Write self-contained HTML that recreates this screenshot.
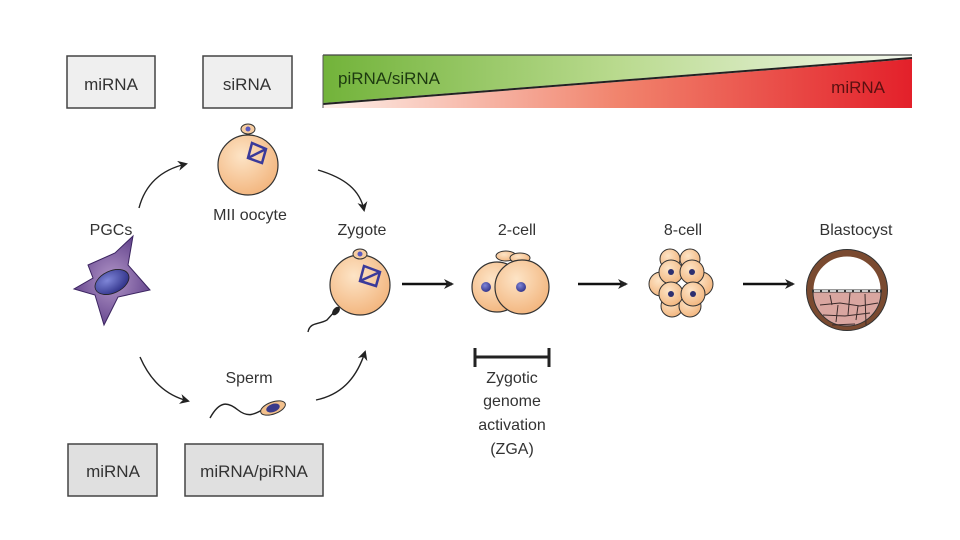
<!DOCTYPE html>
<html><head><meta charset="utf-8"><style>
html,body{margin:0;padding:0;background:#fff}
svg{display:block}
text{font-family:"Liberation Sans",sans-serif;fill:#333}
</style></head><body>
<svg width="960" height="540" viewBox="0 0 960 540" xmlns="http://www.w3.org/2000/svg">
<defs>
<linearGradient id="gg" x1="0" x2="1" y1="0" y2="0"><stop offset="0" stop-color="#72b33a"/><stop offset="0.5" stop-color="#b9da8e"/><stop offset="1" stop-color="#f4f8ee"/></linearGradient>
<linearGradient id="rg" x1="0" x2="1" y1="0" y2="0"><stop offset="0" stop-color="#fdf0ea"/><stop offset="0.5" stop-color="#f1846d"/><stop offset="1" stop-color="#e3202a"/></linearGradient>
<radialGradient id="cell" cx="0.4" cy="0.35" r="0.7"><stop offset="0" stop-color="#fde4c6"/><stop offset="1" stop-color="#f2b47c"/></radialGradient>
<radialGradient id="star" cx="0.5" cy="0.5" r="0.6"><stop offset="0" stop-color="#b296c8"/><stop offset="1" stop-color="#5b3b86"/></radialGradient>
<radialGradient id="nuc" cx="0.4" cy="0.35" r="0.7"><stop offset="0" stop-color="#7f86d8"/><stop offset="1" stop-color="#2d2f86"/></radialGradient>
<marker id="ah" markerWidth="10" markerHeight="10" refX="8" refY="5" orient="auto" markerUnits="userSpaceOnUse"><path d="M0,0 L10,5 L0,10 L3,5Z" fill="#222"/></marker>
</defs>
<!-- boxes -->
<rect x="67" y="56" width="88" height="52" fill="#efefef" stroke="#444" stroke-width="1.5"/>
<text x="111" y="90" font-size="17" text-anchor="middle">miRNA</text>
<rect x="203" y="56" width="89" height="52" fill="#efefef" stroke="#444" stroke-width="1.5"/>
<text x="247" y="90" font-size="17" text-anchor="middle">siRNA</text>
<rect x="68" y="444" width="89" height="52" fill="#e0e0e0" stroke="#444" stroke-width="1.5"/>
<text x="113" y="477" font-size="17" text-anchor="middle">miRNA</text>
<rect x="185" y="444" width="138" height="52" fill="#e0e0e0" stroke="#444" stroke-width="1.5"/>
<text x="254" y="477" font-size="17" text-anchor="middle">miRNA/piRNA</text>
<!-- gradient bar -->
<polygon points="323,55 912,55 912,57 323,103" fill="url(#gg)"/>
<polygon points="323,105 912,59 912,108 323,108" fill="url(#rg)"/>
<line x1="323" y1="55" x2="912" y2="55" stroke="#444" stroke-width="1.2"/>
<line x1="323" y1="104" x2="912" y2="58" stroke="#222" stroke-width="2"/>
<line x1="323" y1="55" x2="323" y2="108" stroke="#555"/>
<text x="338" y="84" font-size="17" style="fill:#1d3a10">piRNA/siRNA</text>
<text x="885" y="93" font-size="17" text-anchor="end" style="fill:#5a1010">miRNA</text>
<!-- labels -->
<text x="111" y="235" font-size="16" text-anchor="middle">PGCs</text>
<text x="250" y="220" font-size="16" text-anchor="middle">MII oocyte</text>
<text x="362" y="235" font-size="16" text-anchor="middle">Zygote</text>
<text x="517" y="235" font-size="16" text-anchor="middle">2-cell</text>
<text x="683" y="235" font-size="16" text-anchor="middle">8-cell</text>
<text x="856" y="235" font-size="16" text-anchor="middle">Blastocyst</text>
<text x="249" y="383" font-size="16" text-anchor="middle">Sperm</text>
<g font-size="16" text-anchor="middle"><text x="512" y="383">Zygotic</text><text x="512" y="406">genome</text><text x="512" y="430">activation</text><text x="512" y="454">(ZGA)</text></g>
<!-- star -->
<polygon points="88,265 115,253 133,236 128,265 150,290 118,297 104,325 95,295 74,289 93,278" fill="url(#star)" stroke="#3b2460" stroke-width="1"/>
<ellipse cx="112" cy="282" rx="18" ry="11" transform="rotate(-25 112 282)" fill="url(#nuc)" stroke="#222" stroke-width="0.8"/>
<!-- oocyte -->
<circle cx="248" cy="165" r="30" fill="url(#cell)" stroke="#333" stroke-width="1.2"/>
<ellipse cx="248" cy="129" rx="7" ry="5" fill="#f6cca0" stroke="#333"/><circle cx="248" cy="129" r="2.5" fill="#5a5ac0"/>
<polygon points="252,143 266,149 262,163 248,158" fill="none" stroke="#3a3a9a" stroke-width="2.5"/><line x1="266" y1="149" x2="248" y2="158" stroke="#3a3a9a" stroke-width="2.5"/>
<!-- zygote -->
<circle cx="360" cy="285" r="30" fill="url(#cell)" stroke="#333" stroke-width="1.2"/>
<ellipse cx="360" cy="254" rx="7" ry="5" fill="#f6cca0" stroke="#333"/><circle cx="360" cy="254" r="2.5" fill="#5a5ac0"/>
<polygon points="364,266 380,272 376,286 360,281" fill="none" stroke="#3a3a9a" stroke-width="2.5"/><line x1="380" y1="272" x2="360" y2="281" stroke="#3a3a9a" stroke-width="2.5"/>
<path d="M336,310 L327,320 C318,325 310,322 308,332" fill="none" stroke="#222" stroke-width="1.4"/>
<ellipse cx="336" cy="311" rx="3" ry="5" transform="rotate(40 336 311)" fill="#222"/>
<!-- sperm -->
<path d="M210,418 C220,400 228,402 238,410 C248,418 255,414 262,410" fill="none" stroke="#222" stroke-width="1.4"/>
<ellipse cx="273" cy="408" rx="13" ry="6" transform="rotate(-20 273 408)" fill="#f2c08c" stroke="#333"/>
<ellipse cx="273" cy="408" rx="7" ry="4" transform="rotate(-20 273 408)" fill="#3a3a8a"/>
<!-- cycle arrows -->
<g fill="none" stroke="#222" stroke-width="1.4" marker-end="url(#ah)">
<path d="M139,208 C145,185 160,170 186,164"/>
<path d="M318,170 C345,178 360,190 364,210"/>
<path d="M140,357 C150,380 165,395 188,401"/>
<path d="M316,400 C340,395 356,380 365,352"/>
</g>
<!-- stage arrows -->
<g stroke="#111" stroke-width="2.5" marker-end="url(#ah)">
<line x1="402" y1="284" x2="452" y2="284"/>
<line x1="578" y1="284" x2="626" y2="284"/>
<line x1="743" y1="284" x2="793" y2="284"/>
</g>
<!-- ZGA bar -->
<g stroke="#222" stroke-width="3"><line x1="475" y1="357" x2="549" y2="357"/><line x1="475" y1="348" x2="475" y2="367"/><line x1="549" y1="348" x2="549" y2="367"/></g>
<!-- 2-cell -->
<ellipse cx="506" cy="256" rx="10" ry="5" fill="url(#cell)" stroke="#333"/>
<ellipse cx="520" cy="258" rx="10" ry="5" fill="url(#cell)" stroke="#333"/>
<circle cx="497" cy="287" r="25" fill="url(#cell)" stroke="#333" stroke-width="1.2"/>
<circle cx="522" cy="287" r="27" fill="url(#cell)" stroke="#333" stroke-width="1.2"/>
<circle cx="486" cy="287" r="5" fill="url(#nuc)"/><circle cx="521" cy="287" r="5" fill="url(#nuc)"/>
<!-- 8-cell -->
<g fill="url(#cell)" stroke="#333">
<circle cx="670" cy="259" r="10"/><circle cx="690" cy="259" r="10"/><circle cx="661" cy="284" r="12"/><circle cx="701" cy="284" r="12"/><circle cx="672" cy="306" r="11"/><circle cx="690" cy="306" r="11"/>
<circle cx="671" cy="272" r="12"/><circle cx="692" cy="272" r="12"/><circle cx="671" cy="294" r="12"/><circle cx="693" cy="294" r="12"/>
</g>
<g fill="#2d2f70"><circle cx="671" cy="272" r="3"/><circle cx="692" cy="272" r="3"/><circle cx="671" cy="294" r="3"/><circle cx="693" cy="294" r="3"/></g>
<!-- blastocyst -->
<circle cx="847" cy="290" r="37" fill="#fff" stroke="#7a4a30" stroke-width="7"/>
<circle cx="847" cy="290" r="40.5" fill="none" stroke="#333" stroke-width="1"/>
<path d="M813,292 L881,292 A34,34 0 0 1 813,292Z" fill="#d9a6a0" stroke="#333" stroke-width="1"/>
<g stroke="#3a2a2a" stroke-width="1" fill="none">
<path d="M820,305 L840,303 L860,306 L878,303 M823,315 L845,316 L870,313 M832,325 L855,324 M830,295 L832,305 M850,293 L848,315 M865,294 L866,325 M838,305 L836,322 M858,306 L856,320"/>
</g>
<line x1="812" y1="291" x2="882" y2="291" stroke="#333" stroke-width="3"/>
<line x1="814" y1="291" x2="880" y2="291" stroke="#fff" stroke-width="1.5" stroke-dasharray="6 2"/>
</svg>
</body></html>
